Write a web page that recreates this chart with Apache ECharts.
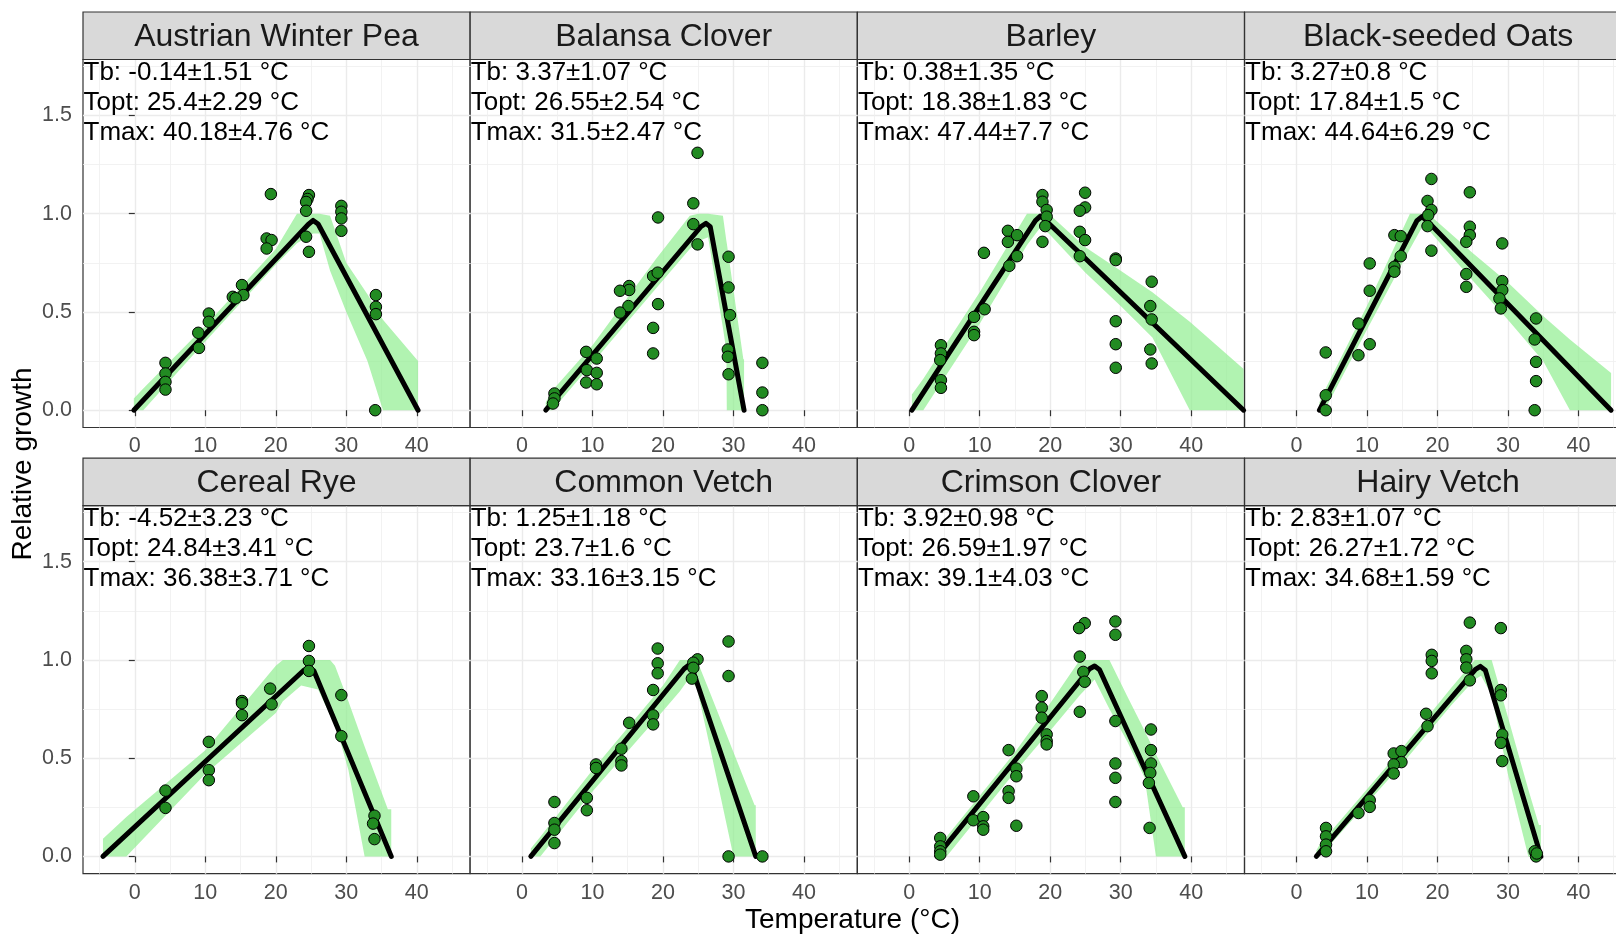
<!DOCTYPE html>
<html><head><meta charset="utf-8">
<script src="https://cdn.jsdelivr.net/npm/echarts@6/dist/echarts.min.js"></script>
<style>html,body{margin:0;padding:0;background:#fff}#c{width:1616px;height:936px}</style>
</head><body><div id="c"></div>
<script>
// ---------------- DATA ----------------
const panelNames = ['Austrian Winter Pea','Balansa Clover','Barley','Black-seeded Oats','Cereal Rye','Common Vetch','Crimson Clover','Hairy Vetch'];
const tbMean   = [-0.14, 3.37, 0.38, 3.27, -4.52, 1.25, 3.92, 2.83];
const tbSe     = [1.51, 1.07, 1.35, 0.8, 3.23, 1.18, 0.98, 1.07];
const toptMean = [25.4, 26.55, 18.38, 17.84, 24.84, 23.7, 26.59, 26.27];
const toptSe   = [2.29, 2.54, 1.83, 1.5, 3.41, 1.6, 1.97, 1.72];
const tmaxMean = [40.18, 31.5, 47.44, 44.64, 36.38, 33.16, 39.1, 34.68];
const tmaxSe   = [4.76, 2.47, 7.7, 6.29, 3.71, 3.15, 4.03, 1.59];

const xTicks = [0, 10, 20, 30, 40];
const xTickLabels = ['0', '10', '20', '30', '40'];
const xMinorTicks = [-5, 5, 15, 25, 35, 45];
const yTicks = [0, 0.5, 1, 1.5];
const yTickLabels = ['0.0', '0.5', '1.0', '1.5'];
const yMinorTicks = [0.25, 0.75, 1.25, 1.75];

// observed points [temperature, relative growth]
const ptsAustrianWinterPea = [[19.3,1.10],[24.7,1.095],[24.5,1.075],[24.3,1.06],[24.3,1.015],[24.3,0.883],[24.7,0.806],[29.3,1.04],[29.3,1.01],[29.3,0.976],[29.3,0.913],[18.7,0.874],[19.4,0.866],[18.7,0.823],[15.2,0.637],[13.9,0.577],[15.4,0.586],[14.3,0.57],[10.5,0.492],[10.5,0.45],[9.0,0.394],[9.1,0.317],[4.35,0.241],[4.35,0.187],[4.35,0.144],[4.35,0.105],[34.2,0.586],[34.2,0.526],[34.2,0.489],[34.1,0.0]];
const ptsBalansaClover = [[24.9,1.31],[24.3,1.053],[19.3,0.981],[24.3,0.947],[24.9,0.844],[29.3,0.781],[29.3,0.625],[29.5,0.484],[29.2,0.309],[29.2,0.272],[29.3,0.183],[34.1,0.241],[34.1,0.09],[34.1,0.0],[18.6,0.683],[19.25,0.70],[15.2,0.632],[15.2,0.612],[13.9,0.608],[15.1,0.53],[13.9,0.497],[19.3,0.54],[18.6,0.419],[18.6,0.289],[9.1,0.297],[10.6,0.263],[9.2,0.204],[10.6,0.19],[9.1,0.141],[10.6,0.132],[4.6,0.085],[4.6,0.06],[4.4,0.034]];
const ptsBarley = [[18.9,1.095],[18.9,1.061],[19.5,1.019],[19.5,0.985],[19.3,0.937],[18.9,0.857],[24.95,1.107],[24.95,1.032],[24.2,1.015],[24.2,0.908],[24.95,0.866],[24.2,0.784],[29.3,0.772],[29.3,0.764],[29.3,0.453],[29.3,0.336],[29.3,0.216],[34.4,0.654],[34.2,0.53],[34.4,0.462],[34.2,0.309],[34.4,0.238],[14.0,0.913],[15.3,0.891],[14.0,0.857],[15.3,0.784],[14.2,0.735],[10.6,0.801],[10.7,0.514],[9.2,0.475],[9.2,0.399],[9.2,0.382],[4.5,0.331],[4.5,0.289],[4.4,0.255],[4.5,0.153],[4.5,0.114]];
const ptsBlackSeededOats = [[19.15,1.177],[24.6,1.109],[18.6,1.065],[19.15,1.019],[18.7,0.993],[18.6,0.937],[19.15,0.812],[24.6,0.934],[24.6,0.891],[24.1,0.857],[29.2,0.849],[24.1,0.693],[24.1,0.628],[29.2,0.657],[29.2,0.611],[28.8,0.569],[29.0,0.518],[34.0,0.467],[33.8,0.36],[34.0,0.246],[34.0,0.148],[33.8,0.0],[13.9,0.891],[14.8,0.886],[14.8,0.784],[13.9,0.73],[13.9,0.705],[10.4,0.747],[10.4,0.608],[10.4,0.336],[8.8,0.441],[8.8,0.28],[4.16,0.294],[4.16,0.076],[4.16,0.0]];
const ptsCerealRye = [[24.7,1.071],[24.7,0.995],[24.7,0.944],[19.2,0.854],[19.4,0.774],[15.2,0.791],[15.2,0.78],[15.2,0.719],[29.3,0.821],[29.3,0.612],[10.5,0.583],[10.5,0.439],[10.5,0.388],[4.35,0.335],[4.35,0.247],[34.0,0.207],[33.8,0.167],[34.0,0.088]];
const ptsCommonVetch = [[19.25,1.058],[19.25,0.983],[19.25,0.932],[18.6,0.847],[18.6,0.718],[18.6,0.672],[24.9,1.003],[24.3,0.986],[24.3,0.96],[24.1,0.905],[29.3,1.094],[29.3,0.918],[15.2,0.68],[14.1,0.548],[14.1,0.485],[14.1,0.463],[10.5,0.468],[10.5,0.45],[9.2,0.298],[9.2,0.235],[4.6,0.277],[4.6,0.17],[4.6,0.136],[4.6,0.068],[29.3,0.0],[34.1,0.0]];
const ptsCrimsonClover = [[29.25,1.196],[29.25,1.128],[24.9,1.187],[24.1,1.162],[24.2,1.017],[24.7,0.939],[24.9,0.889],[24.2,0.736],[29.25,0.689],[29.25,0.473],[29.25,0.4],[29.25,0.277],[34.3,0.646],[34.3,0.541],[34.3,0.473],[34.2,0.425],[34.0,0.374],[34.1,0.145],[18.8,0.816],[18.8,0.757],[18.8,0.706],[19.5,0.621],[19.5,0.587],[19.5,0.57],[14.1,0.541],[15.2,0.447],[15.2,0.408],[14.1,0.332],[14.1,0.298],[15.2,0.156],[9.1,0.306],[9.1,0.184],[10.5,0.2],[10.5,0.153],[10.5,0.136],[4.4,0.094],[4.4,0.051],[4.4,0.026],[4.4,0.009]];
const ptsHairyVetch = [[24.6,1.19],[29.0,1.162],[19.2,1.026],[19.2,0.995],[19.2,0.932],[24.1,1.046],[24.1,1.003],[24.1,0.961],[24.6,0.896],[29.0,0.847],[29.0,0.82],[29.2,0.62],[29.0,0.578],[29.2,0.485],[18.4,0.726],[18.6,0.663],[13.8,0.524],[14.9,0.536],[14.9,0.48],[13.8,0.468],[13.8,0.422],[10.4,0.286],[10.4,0.252],[8.8,0.221],[4.2,0.145],[4.2,0.102],[4.2,0.06],[4.2,0.026],[33.8,0.026],[34.0,0.0],[34.1,0.015]];

// fitted curve vertices [temperature, relative growth]
const fitAustrianWinterPea = [[-0.14,0],[24.6,0.945],[25.3,0.966],[26.0,0.948],[40.18,0]];
const fitBalansaClover     = [[3.37,0],[25.4,0.935],[26.1,0.951],[26.7,0.934],[31.5,0]];
const fitBarley            = [[0.38,0],[17.9,0.965],[18.6,0.988],[19.3,0.968],[47.44,0]];
const fitBlackSeededOats   = [[3.27,0],[17.1,0.965],[17.8,0.985],[18.5,0.966],[44.64,0]];
const fitCerealRye         = [[-4.52,0],[23.9,0.945],[24.7,0.962],[25.4,0.945],[36.38,0]];
const fitCommonVetch       = [[1.25,0],[23.0,0.955],[23.6,0.972],[24.2,0.95],[33.16,0]];
const fitCrimsonClover     = [[3.92,0],[25.6,0.955],[26.3,0.969],[27.0,0.95],[39.1,0]];
const fitHairyVetch        = [[2.83,0],[25.4,0.952],[26.1,0.967],[26.8,0.948],[34.68,0]];

// confidence band rows [temperature, lower, upper]
const bandAustrianWinterPea = [[-0.14,0,0.06],[1.2,0,0.11],[10,0.35,0.43],[20,0.74,0.82],[23,0.85,1.0],[25.3,0.9,1.0],[26.2,0.9,1.0],[27.7,0.71,0.99],[30,0.5,0.75],[33,0.25,0.59],[35.2,0,0.46],[40.18,0,0.25]];
const bandBalansaClover = [[3.37,0,0.04],[4.3,0,0.1],[10,0.24,0.33],[19,0.62,0.77],[23.8,0.82,0.99],[25.0,0.86,1.0],[26.4,0.88,1.0],[28.5,0.42,0.99],[29.0,0.3,0.86],[29.05,0,0.85],[31.4,0,0.26],[31.5,0,0.26]];
const bandBarley = [[0.38,0,0.08],[2.0,0,0.16],[10,0.44,0.6],[16.7,0.84,1.0],[18.6,0.93,1.0],[19.8,0.9,1.0],[25,0.7,0.83],[30,0.53,0.71],[34.5,0.37,0.6],[39.8,0,0.45],[47.44,0,0.21]];
const bandBlackSeededOats = [[3.27,0,0.04],[4.0,0,0.1],[10,0.41,0.53],[16.1,0.82,1.0],[17.8,0.93,1.0],[18.7,0.92,1.0],[25,0.66,0.8],[30,0.46,0.65],[35,0.25,0.48],[38.8,0,0.36],[44.64,0,0.19]];
const bandCerealRye = [[-4.52,0,0.09],[-1.2,0,0.2],[10,0.42,0.54],[20,0.73,0.97],[21,0.79,1.0],[23.6,0.87,1.0],[26,0.85,1.0],[27.7,0.72,1.0],[28.4,0.68,0.97],[30.3,0.44,0.79],[32.6,0,0.56],[35.9,0,0.24],[36.38,0,0.24]];
const bandCommonVetch = [[1.25,0,0.04],[2.6,0,0.1],[10,0.33,0.44],[20,0.74,0.87],[22.4,0.84,1.0],[23.6,0.9,1.0],[24.8,0.86,1.0],[26.7,0.55,0.83],[30,0,0.53],[33,0,0.26],[33.16,0,0.26]];
const bandCrimsonClover = [[3.92,0,0.04],[5.3,0,0.1],[15,0.43,0.53],[20,0.64,0.78],[24.2,0.82,1.0],[26.3,0.9,1.0],[28.4,0.75,1.0],[31,0.58,0.81],[33.4,0.4,0.64],[35,0,0.52],[38.8,0,0.25],[39.1,0,0.25]];
const bandHairyVetch = [[2.83,0,0.03],[3.3,0,0.06],[15,0.47,0.55],[22,0.77,0.86],[25.3,0.9,1.0],[26.2,0.92,1.0],[27.7,0.82,1.0],[30,0.42,0.71],[32.9,0,0.34],[34.4,0,0.16],[34.68,0,0.16]];

const allPoints = [ptsAustrianWinterPea, ptsBalansaClover, ptsBarley, ptsBlackSeededOats, ptsCerealRye, ptsCommonVetch, ptsCrimsonClover, ptsHairyVetch];
const allFits = [fitAustrianWinterPea, fitBalansaClover, fitBarley, fitBlackSeededOats, fitCerealRye, fitCommonVetch, fitCrimsonClover, fitHairyVetch];
const allBands = [bandAustrianWinterPea, bandBalansaClover, bandBarley, bandBlackSeededOats, bandCerealRye, bandCommonVetch, bandCrimsonClover, bandHairyVetch];

// ---------------- LAYOUT / STYLE ----------------
const FONT = '"Liberation Sans", Arial, sans-serif';
const L0 = 83, PITCH = 387.2, PW = 387, PH = 368, STRIP_H = 47.5;
const ROW_TOP = [59.5, 505.7];
const X_MIN = -7.35, X_MAX = 47.55, Y_MIN = -0.088, Y_MAX = 1.785;

const grids = [], xAxes = [], yAxes = [], series = [], graphics = [];
for (let i = 0; i < 8; i++) {
  const col = i % 4, row = Math.floor(i / 4);
  const left = L0 + col * PITCH, top = ROW_TOP[row];
  grids.push({left: left, top: top, width: PW, height: PH, show: true, backgroundColor: '#fff',
    borderColor: '#333333', borderWidth: 1.2, containLabel: false, outerBoundsMode: 'none'});
  xAxes.push({type: 'value', gridIndex: i, min: X_MIN, max: X_MAX, position: 'bottom',
    axisLine: {show: false},
    axisTick: {show: true, length: 6, customValues: xTicks, lineStyle: {color: '#333333', width: 1.2}},
    axisLabel: {show: true, customValues: xTicks, formatter: v => xTickLabels[xTicks.indexOf(v)],
      color: '#4D4D4D', fontSize: 21.5, fontFamily: FONT, margin: 8},
    splitLine: {show: true, lineStyle: {color: '#EBEBEB', width: 1.4}}});
  xAxes.push({type: 'value', gridIndex: i, min: X_MIN, max: X_MAX, position: 'top',
    axisLine: {show: false}, axisTick: {show: false, customValues: xMinorTicks},
    axisLabel: {show: false, customValues: xMinorTicks},
    splitLine: {show: true, lineStyle: {color: '#EFEFEF', width: 0.8}}});
  const showY = col === 0;
  yAxes.push({type: 'value', gridIndex: i, min: Y_MIN, max: Y_MAX, position: 'left',
    axisLine: {show: false},
    axisTick: {show: showY, length: 6, customValues: yTicks, lineStyle: {color: '#333333', width: 1.2}},
    axisLabel: {show: showY, customValues: yTicks, formatter: v => yTickLabels[yTicks.indexOf(v)],
      color: '#4D4D4D', fontSize: 21.5, fontFamily: FONT, margin: 11},
    splitLine: {show: true, lineStyle: {color: '#EBEBEB', width: 1.4}}});
  yAxes.push({type: 'value', gridIndex: i, min: Y_MIN, max: Y_MAX, position: 'right',
    axisLine: {show: false}, axisTick: {show: false, customValues: yMinorTicks},
    axisLabel: {show: false, customValues: yMinorTicks},
    splitLine: {show: true, lineStyle: {color: '#EFEFEF', width: 0.8}}});

  const band = allBands[i];
  series.push({type: 'custom', xAxisIndex: 2 * i, yAxisIndex: 2 * i, clip: true, z: 2,
    data: band, encode: {x: 0, y: [1, 2]},
    renderItem: function (params, api) {
      if (params.dataIndex !== 0) return null;
      const pts = [];
      for (let k = 0; k < band.length; k++) pts.push(api.coord([band[k][0], band[k][2]]));
      for (let k = band.length - 1; k >= 0; k--) pts.push(api.coord([band[k][0], band[k][1]]));
      return {type: 'polygon', shape: {points: pts}, style: {fill: 'rgba(144,238,144,0.7)'}};
    }});
  series.push({type: 'line', xAxisIndex: 2 * i, yAxisIndex: 2 * i, z: 3, data: allFits[i],
    symbol: 'none', showSymbol: false, smooth: false,
    lineStyle: {color: '#000', width: 5, cap: 'round', join: 'round'}});
  series.push({type: 'scatter', xAxisIndex: 2 * i, yAxisIndex: 2 * i, z: 4, data: allPoints[i],
    symbol: 'circle', symbolSize: 11.5,
    itemStyle: {color: '#228B22', borderColor: '#000', borderWidth: 1, opacity: 1}});

  // strip
  graphics.push({type: 'rect', z: 10, shape: {x: left, y: top - STRIP_H, width: PW, height: STRIP_H},
    style: {fill: '#D9D9D9', stroke: '#333333', lineWidth: 1.2}});
  graphics.push({type: 'text', z: 11, x: left + PW / 2, y: top - STRIP_H / 2 + 1.5,
    style: {text: panelNames[i], font: '32px ' + FONT, fill: '#1A1A1A', textAlign: 'center', textVerticalAlign: 'middle'}});
  // annotations
  const lines = [
    'Tb: ' + tbMean[i] + '\u00B1' + tbSe[i] + ' \u00B0C',
    'Topt: ' + toptMean[i] + '\u00B1' + toptSe[i] + ' \u00B0C',
    'Tmax: ' + tmaxMean[i] + '\u00B1' + tmaxSe[i] + ' \u00B0C'
  ];
  lines.forEach((t, k) => {
    graphics.push({type: 'text', z: 12, x: left + 0.5, y: top + 13 + 30 * k,
      style: {text: t, font: '26px ' + FONT, fill: '#000', textAlign: 'left', textVerticalAlign: 'middle'}});
  });
}
graphics.push({type: 'text', z: 12, x: 852.5, y: 920,
  style: {text: 'Temperature (\u00B0C)', font: '28px ' + FONT, fill: '#000', textAlign: 'center', textVerticalAlign: 'middle'}});
graphics.push({type: 'text', z: 12, x: 23, y: 464, rotation: Math.PI / 2,
  style: {text: 'Relative growth', font: '28px ' + FONT, fill: '#000', textAlign: 'center', textVerticalAlign: 'middle'}});

const chart = echarts.init(document.getElementById('c'), null, {renderer: 'canvas'});
chart.setOption({
  animation: false,
  backgroundColor: '#fff',
  textStyle: {fontFamily: FONT},
  grid: grids, xAxis: xAxes, yAxis: yAxes, series: series, graphic: graphics
});
</script></body></html>
